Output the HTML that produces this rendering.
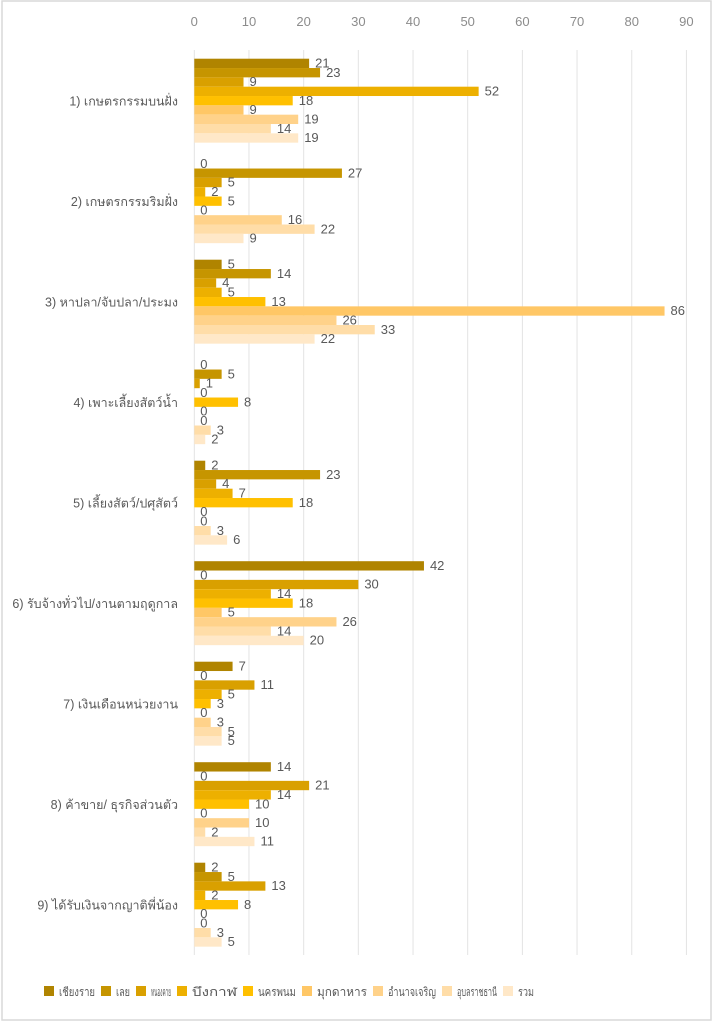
<!DOCTYPE html>
<html><head><meta charset="utf-8"><style>
html,body{margin:0;padding:0;background:#fff;}
svg{display:block;font-family:"Liberation Sans","Noto Sans CJK SC",sans-serif;}
</style></head><body>
<svg width="714" height="1024" xmlns="http://www.w3.org/2000/svg">
<rect x="2" y="1" width="709" height="1019" fill="#fff" stroke="#d9d9d9" stroke-width="1.5"/>
<g id="grid" stroke="#e3e3e3" stroke-width="1"></g>
<g id="ticks" fill="#8c8c8c" font-size="13" text-anchor="middle"></g>
<g id="bars"></g>
<g id="cats" fill="#595959" font-size="12.5" text-anchor="end"></g>
<g id="legend" fill="#595959" font-size="12"></g>
</svg>
<script>
(function(){
var NS="http://www.w3.org/2000/svg";
function el(p,t,a,txt){var e=document.createElementNS(NS,t);for(var k in a)e.setAttribute(k,a[k]);if(txt!==undefined)e.textContent=txt;document.getElementById(p).appendChild(e);}
var x0=194.3,u=5.468;
for(var i=0;i<=9;i++){var x=x0+i*10*u;el("grid","line",{x1:x,x2:x,y1:50,y2:955});el("ticks","text",{x:x,y:26},String(i*10));}
var cols=["#B08400","#C69500","#D9A000","#EDB000","#FFC000","#FFC766","#FFD28A","#FFDDA8","#FFE8C8"];
var data=[[21,23,9,52,18,9,19,14,19],[0,27,5,2,5,0,16,22,9],[5,14,4,5,13,86,26,33,22],[0,5,1,0,8,0,0,3,2],[2,23,4,7,18,0,0,3,6],[42,0,30,14,18,5,26,14,20],[7,0,11,5,3,0,3,5,5],[14,0,21,14,10,0,10,2,11],[2,5,13,2,8,0,0,3,5]];
var cats=["1) เกษตรกรรมบนฝั่ง","2) เกษตรกรรมริมฝั่ง","3) หาปลา/จับปลา/ประมง","4) เพาะเลี้ยงสัตว์น้ำ","5) เลี้ยงสัตว์/ปศุสัตว์","6) รับจ้างทั่วไป/งานตามฤดูกาล","7) เงินเดือนหน่วยงาน","8) ค้าขาย/ ธุรกิจส่วนตัว","9) ได้รับเงินจากญาติพี่น้อง"];
var bh=9.33,pitch=100.5,topY=58.7;
data.forEach(function(g,gi){var gy=topY+gi*pitch;
 g.forEach(function(v,si){var y=gy+si*bh;var w=v*u;
  if(w>0)el("bars","rect",{x:x0,y:y,width:w,height:bh,fill:cols[si]});
  el("bars","text",{x:x0+w+6,y:y+bh-0.5,fill:"#595959","font-size":"13"},String(v));});
 el("cats","text",{x:178,y:gy+bh*4.5+5},cats[gi]);});
var leg=[["เชียงราย",44],["เลย",101],["หนองคาย",136],["บึงกาฬ",177],["นครพนม",243],["มุกดาหาร",302],["อำนาจเจริญ",373],["อุบลราชธานี",442],["รวม",503]];
leg.forEach(function(l,i){
 var next=i<leg.length-1?leg[i+1][1]:540;
 var tl=next-(l[1]+15)-6;
 el("legend","rect",{x:l[1],y:986,width:10,height:10,fill:cols[i]});
 el("legend","text",{x:l[1]+15,y:996,textLength:tl,lengthAdjust:"spacingAndGlyphs"},l[0]);});
})();
</script>
</body></html>
